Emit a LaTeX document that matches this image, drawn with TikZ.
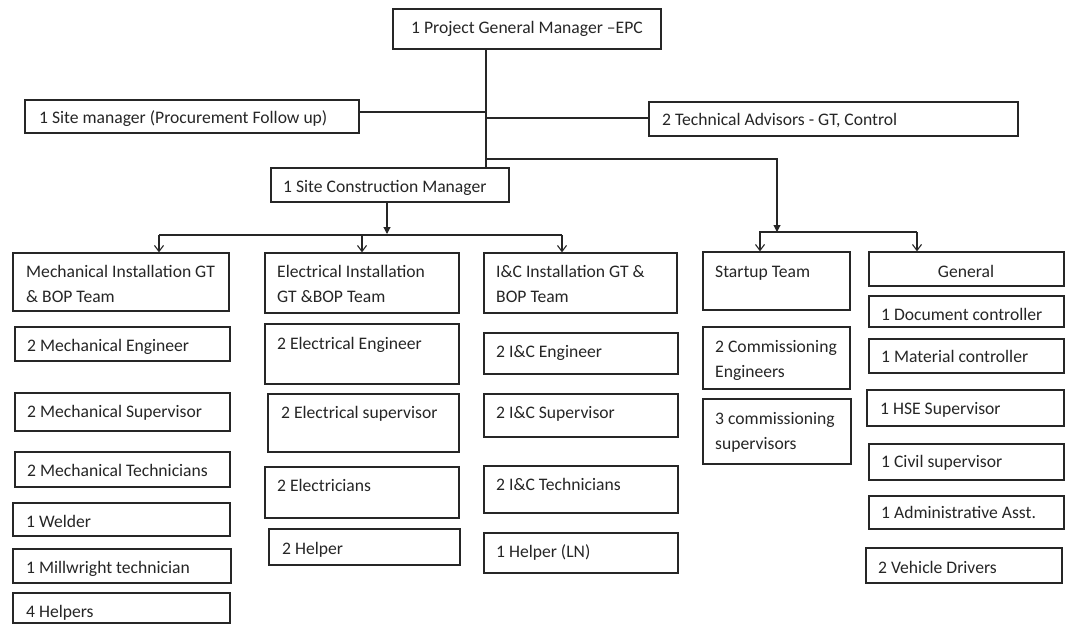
\documentclass[tikz,border=0pt]{standalone}
\usepackage{fontspec}
\setmainfont{Carlito}
\usetikzlibrary{fit,arrows.meta}
\definecolor{ink}{HTML}{262626}
\tikzset{
  boxst/.style={draw=ink, line width=1.3pt, inner sep=0pt, fill=white},
  txt/.style={anchor=base west, inner sep=0pt, text=ink, align=left,
    font=\fontsize{17.6}{25}\selectfont},
  conn/.style={draw=ink, line width=1.1pt},
  oarr/.style={conn, -{Straight Barb[length=6pt,width=9pt,line width=1.1pt]}},
  farr/.style={conn, -{Triangle[length=7pt,width=7pt]}}
}
\newcommand{\bx}[5]{\node[boxst, fit={(#2,#3) (#4,#5)}] (#1) {};}
\newcommand{\tx}[4]{\node[txt] (#1) at (#2,#3) {#4};}
\begin{document}
\begin{tikzpicture}[x=1pt,y=-1pt]
\useasboundingbox[fill=white] (0,0) rectangle (1065,626);
% top level
\bx{pgm}{393}{9}{661}{49}
\tx{pgmt}{411}{34}{1 Project General Manager –EPC}
\bx{sm}{25}{100}{359}{133}
\tx{smt}{39}{123}{1 Site manager (Procurement Follow up)}
\bx{ta}{649}{102}{1018}{136}
\tx{tat}{662}{125}{2 Technical Advisors - GT, Control}
\bx{scm}{271}{168}{509}{202}
\tx{scmt}{283}{192}{1 Site Construction Manager}
% second level (multi-line nodes: base = last line)
\bx{mech}{13}{253}{229}{311}
\tx{mecht}{26}{302}{Mechanical Installation GT\\ \& BOP Team}
\bx{elec}{265}{253}{459}{313}
\tx{elect}{277}{302}{Electrical Installation\\ GT \&BOP Team}
\bx{ic}{484}{253}{677}{313}
\tx{ict}{496}{302}{I\&C Installation GT \&\\ BOP Team}
\bx{su}{703}{252}{850}{310}
\tx{sut}{715}{277}{Startup Team}
\bx{gen}{869}{252}{1064}{286}
\node[txt, anchor=base] (gent) at (966,277) {General};
% mechanical column
\bx{m1}{15}{327}{230}{361}
\tx{m1t}{27}{351}{2 Mechanical Engineer}
\bx{m2}{15}{393}{230}{431}
\tx{m2t}{27}{417}{2 Mechanical Supervisor}
\bx{m3}{15}{452}{230}{487}
\tx{m3t}{27}{476}{2 Mechanical Technicians}
\bx{m4}{13}{503}{230}{536}
\tx{m4t}{26}{527}{1 Welder}
\bx{m5}{13}{549}{231}{583}
\tx{m5t}{26}{573}{1 Millwright technician}
\bx{m6}{13}{593}{230}{623}
\tx{m6t}{26}{617}{4 Helpers}
% electrical column
\bx{e1}{265}{324}{459}{384}
\tx{e1t}{277}{349}{2 Electrical Engineer}
\bx{e2}{268}{394}{459}{452}
\tx{e2t}{281}{418}{2 Electrical supervisor}
\bx{e3}{265}{467}{459}{518}
\tx{e3t}{277}{491}{2 Electricians}
\bx{e4}{269}{529}{460}{565}
\tx{e4t}{282}{554}{2 Helper}
% I&C column
\bx{i1}{484}{333}{678}{374}
\tx{i1t}{496}{357}{2 I\&C Engineer}
\bx{i2}{484}{394}{678}{437}
\tx{i2t}{496}{418}{2 I\&C Supervisor}
\bx{i3}{484}{466}{678}{513}
\tx{i3t}{496}{490}{2 I\&C Technicians}
\bx{i4}{484}{533}{678}{573}
\tx{i4t}{496}{557}{1 Helper (LN)}
% startup column
\bx{s1}{703}{327}{850}{389}
\tx{s1t}{715}{377}{2 Commissioning\\ Engineers}
\bx{s2}{703}{399}{851}{464}
\tx{s2t}{715}{449}{3 commissioning\\ supervisors}
% general column
\bx{g1}{869}{296}{1064}{327}
\tx{g1t}{881}{320}{1 Document controller}
\bx{g2}{869}{339}{1064}{373}
\tx{g2t}{881}{362}{1 Material controller}
\bx{g3}{867}{390}{1064}{426}
\tx{g3t}{880}{414}{1 HSE Supervisor}
\bx{g4}{869}{444}{1064}{480}
\tx{g4t}{881}{467}{1 Civil supervisor}
\bx{g5}{869}{496}{1064}{529}
\tx{g5t}{881}{518}{1 Administrative Asst.}
\bx{g6}{866}{548}{1062}{583}
\tx{g6t}{878}{573}{2 Vehicle Drivers}
% connectors
\coordinate (vx) at (486,0);
\coordinate (h1) at (486,112);
\coordinate (h2) at (486,118);
\coordinate (h3) at (486,159);
\draw[conn] (pgm.south -| vx) -- (scm.north -| vx);
\draw[conn] (sm.east |- h1) -- (h1);
\draw[conn] (h2) -- (ta.west |- h2);
% startup / general branch
\coordinate (sb) at (777,232);
\coordinate (a1) at (760,232);
\coordinate (a2) at (917,232);
\draw[farr] (h3) -| (sb);
\draw[oarr] (a2) -- (a1) -- (a1 |- su.north);
\draw[oarr] (a2) -- (a2 |- gen.north);
% construction branch
\coordinate (b0) at (387,234);
\coordinate (b1) at (159,235);
\coordinate (b2) at (362,235);
\coordinate (b3) at (562,235);
\draw[farr] (scm.south -| b0) -- (b0);
\draw[conn] (b1) -- (b3);
\draw[oarr] (b1) -- (b1 |- mech.north);
\draw[oarr] (b2) -- (b2 |- elec.north);
\draw[oarr] (b3) -- (b3 |- ic.north);
\end{tikzpicture}
\end{document}
